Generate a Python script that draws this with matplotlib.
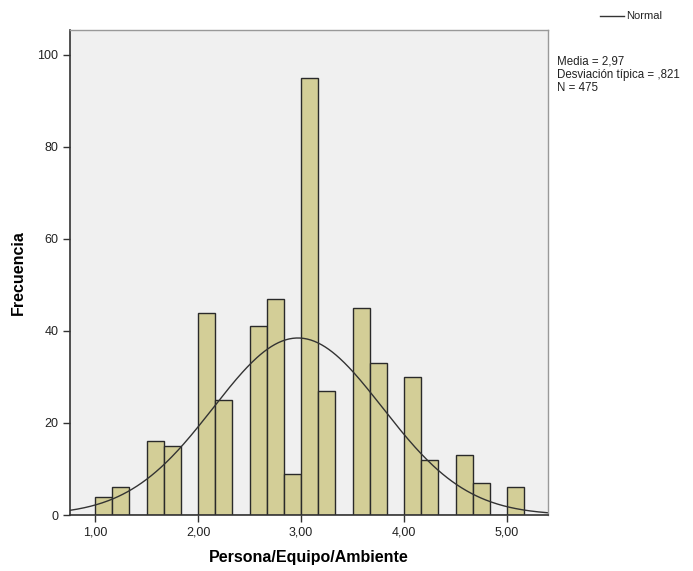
import numpy as np
import matplotlib
matplotlib.use("Agg")
import matplotlib.pyplot as plt
from matplotlib.ticker import FuncFormatter

plt.rcParams['font.family'] = ['Liberation Sans', 'DejaVu Sans']

# Data
bin_edges = [1.0 + i / 6 for i in range(26)]
counts = [4, 6, 0, 16, 15, 0, 44, 25, 0, 41, 47, 9, 95, 27, 0, 45, 33, 0, 30, 12, 0, 13, 7, 0, 6]
mean_val = 2.97
sd_val = 0.821
n_val = 475

fig = plt.figure(figsize=(6.93, 5.71), dpi=100)
ax = fig.add_axes([70/693, 56/571, 478/693, 485/571])
ax.set_facecolor('#F0F0F0')

left = np.array(bin_edges[:-1])
widths = np.diff(bin_edges)
ax.bar(left, counts, width=widths, align='edge', color='#D3CE97',
       edgecolor='#2a2a2a', linewidth=1.0)

x = np.linspace(0.757, 5.398, 400)
bw = widths[0]
y = n_val * bw / (sd_val * np.sqrt(2 * np.pi)) * np.exp(-0.5 * ((x - mean_val) / sd_val) ** 2)
ax.plot(x, y, color='#333333', linewidth=1.0)

ax.set_xlim(0.757, 5.398)
ax.set_ylim(0, 105.4)
ax.set_xticks([1, 2, 3, 4, 5])
ax.set_yticks([0, 20, 40, 60, 80, 100])
ax.xaxis.set_major_formatter(FuncFormatter(lambda v, p: f"{v:.2f}".replace('.', ',')))
ax.tick_params(axis='both', direction='out', length=5, width=1.0, color='#333333',
               labelsize=9, labelcolor='#222222')

for side in ['left', 'bottom']:
    ax.spines[side].set_color('#333333')
    ax.spines[side].set_linewidth(1.2)
for side in ['top', 'right']:
    ax.spines[side].set_color('#999999')
    ax.spines[side].set_linewidth(1.0)

ax.set_xlabel('Persona/Equipo/Ambiente', fontsize=11.5, fontweight='bold', labelpad=8)
ax.set_ylabel('Frecuencia', fontsize=11.5, fontweight='bold', labelpad=8)

# Legend-like annotation
fig.add_artist(plt.Line2D([600/693, 624/693], [1 - 16/571, 1 - 16/571],
                          color='#333333', linewidth=1.0))
fig.text(626/693, 1 - 16/571, 'Normal', fontsize=8, va='center', ha='left', color='#222222')
fig.text(557/693, 1 - 56/571,
         f"Media = {mean_val:.2f}".replace('.', ',') + "\n" +
         f"Desviación típica = ,{int(round(sd_val*1000))}" + "\n" +
         f"N = {n_val}",
         fontsize=8.3, va='top', ha='left', color='#222222', linespacing=1.12)

fig.savefig('out.png', dpi=100)
